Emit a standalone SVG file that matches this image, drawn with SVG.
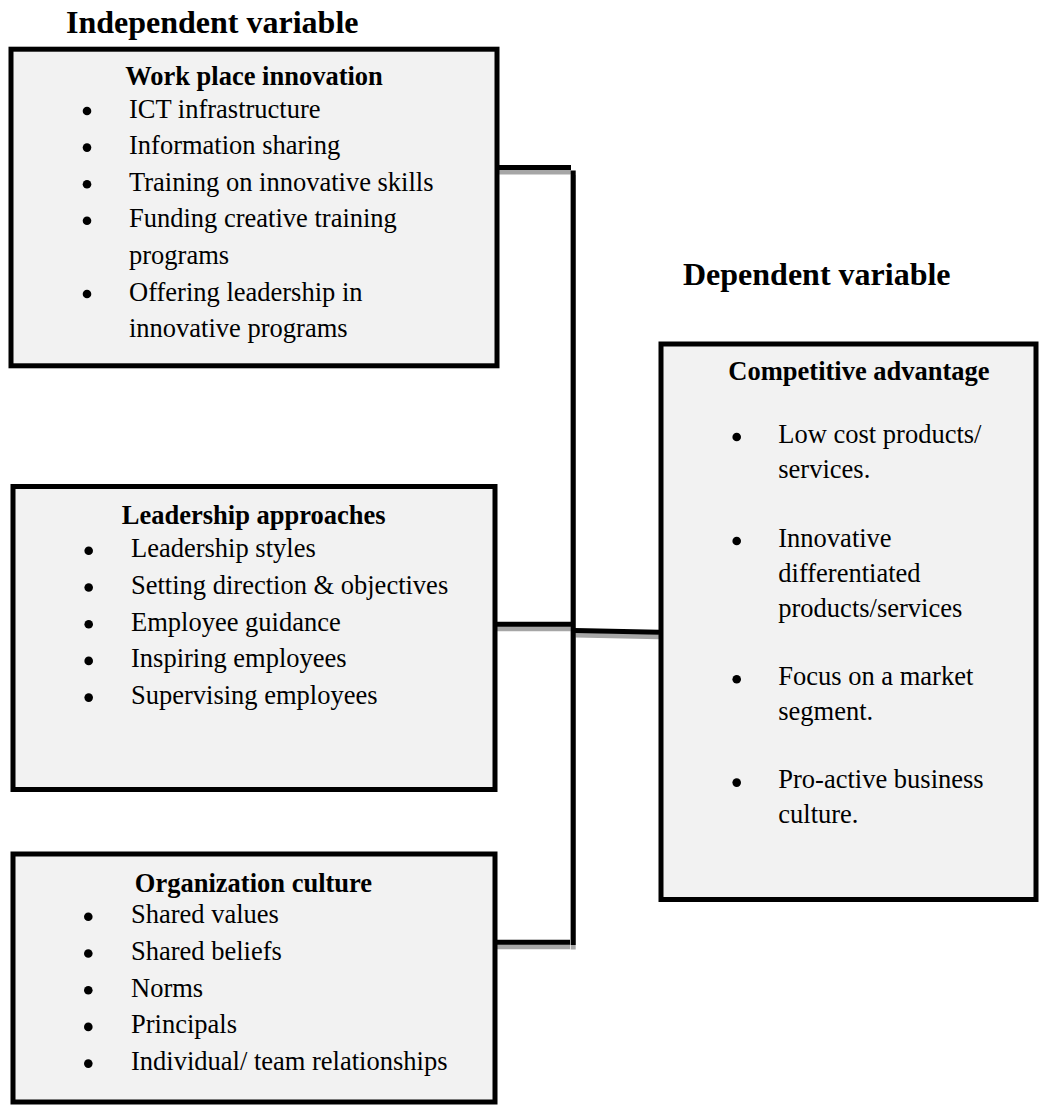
<svg xmlns="http://www.w3.org/2000/svg" width="1044" height="1105" viewBox="0 0 1044 1105">
<style>
.box{fill:#f2f2f2;stroke:#000;stroke-width:5}
.t{font-family:"Liberation Serif","Times New Roman",serif;font-size:26.5px;fill:#000}
.b{font-weight:bold}
.h{font-family:"Liberation Serif","Times New Roman",serif;font-size:32px;font-weight:bold;fill:#000}
.m{text-anchor:middle}
.dot{fill:#000}
.ln{stroke:#000;stroke-width:5;fill:none}
.sh{stroke:#a6a6a6;stroke-width:5;fill:none}
</style>
<rect width="1044" height="1105" fill="#fff"/>
<text class="h" x="66" y="33">Independent variable</text>
<text class="h" x="683" y="285">Dependent variable</text>

<g id="connectors">
  <g transform="translate(0,4.5)">
    <line class="sh" x1="497" y1="167.5" x2="571" y2="167.5"/>
    <line class="sh" x1="573.2" y1="170.5" x2="573.2" y2="945"/>
    <line class="sh" x1="497" y1="624.2" x2="571" y2="624.2"/>
    <line class="sh" x1="575" y1="630.5" x2="659" y2="632.2"/>
    <line class="sh" x1="497" y1="942.2" x2="570" y2="942.2"/>
  </g>
  <line class="ln" x1="497" y1="167.5" x2="571" y2="167.5"/>
  <line class="ln" x1="573.2" y1="170.5" x2="573.2" y2="945"/>
  <line class="ln" x1="497" y1="624.2" x2="571" y2="624.2"/>
  <line class="ln" x1="575" y1="630.5" x2="659" y2="632.2"/>
  <line class="ln" x1="497" y1="942.2" x2="570" y2="942.2"/>
</g>

<g id="workplace">
  <rect class="box" x="11" y="49.2" width="486" height="316.6"/>
  <text class="t b m" x="254" y="85">Work place innovation</text>
  <circle class="dot" cx="87" cy="111" r="4.3"/>
  <circle class="dot" cx="87" cy="147.6" r="4.3"/>
  <circle class="dot" cx="87" cy="184.2" r="4.3"/>
  <circle class="dot" cx="87" cy="220.8" r="4.3"/>
  <circle class="dot" cx="87" cy="294" r="4.3"/>
  <text class="t" x="129" y="117.5">ICT infrastructure</text>
  <text class="t" x="129" y="154.1">Information sharing</text>
  <text class="t" x="129" y="190.7">Training on innovative skills</text>
  <text class="t" x="129" y="227.3">Funding creative training</text>
  <text class="t" x="129" y="263.9">programs</text>
  <text class="t" x="129" y="300.5">Offering leadership in</text>
  <text class="t" x="129" y="337.1">innovative programs</text>
</g>

<g id="leadership">
  <rect class="box" x="13" y="486.5" width="482" height="303"/>
  <text class="t b m" x="253.7" y="524">Leadership approaches</text>
  <circle class="dot" cx="88.7" cy="550.8" r="4.3"/>
  <circle class="dot" cx="88.7" cy="587.5" r="4.3"/>
  <circle class="dot" cx="88.7" cy="624.2" r="4.3"/>
  <circle class="dot" cx="88.7" cy="660.9" r="4.3"/>
  <circle class="dot" cx="88.7" cy="697.6" r="4.3"/>
  <text class="t" x="131" y="557.3">Leadership styles</text>
  <text class="t" x="131" y="594">Setting direction &amp; objectives</text>
  <text class="t" x="131" y="630.7">Employee guidance</text>
  <text class="t" x="131" y="667.4">Inspiring employees</text>
  <text class="t" x="131" y="704.1">Supervising employees</text>
</g>

<g id="culture">
  <rect class="box" x="13" y="854" width="482" height="248"/>
  <text class="t b m" x="253.5" y="891.7">Organization culture</text>
  <circle class="dot" cx="88.3" cy="916.8" r="4.3"/>
  <circle class="dot" cx="88.3" cy="953.5" r="4.3"/>
  <circle class="dot" cx="88.3" cy="990.2" r="4.3"/>
  <circle class="dot" cx="88.3" cy="1026.9" r="4.3"/>
  <circle class="dot" cx="88.3" cy="1063.6" r="4.3"/>
  <text class="t" x="131" y="923.3">Shared values</text>
  <text class="t" x="131" y="960">Shared beliefs</text>
  <text class="t" x="131" y="996.7">Norms</text>
  <text class="t" x="131" y="1033.4">Principals</text>
  <text class="t" x="131" y="1070.1">Individual/ team relationships</text>
</g>

<g id="competitive">
  <rect class="box" x="661" y="344" width="375" height="555.5"/>
  <text class="t b m" x="859" y="380">Competitive advantage</text>
  <circle class="dot" cx="736.7" cy="437" r="4.3"/>
  <circle class="dot" cx="736.7" cy="541" r="4.3"/>
  <circle class="dot" cx="736.7" cy="679.3" r="4.3"/>
  <circle class="dot" cx="736.7" cy="782.6" r="4.3"/>
  <text class="t" x="778.3" y="442.7">Low cost products/</text>
  <text class="t" x="778.3" y="478.3">services.</text>
  <text class="t" x="778.3" y="546.7">Innovative</text>
  <text class="t" x="778.3" y="581.7">differentiated</text>
  <text class="t" x="778.3" y="616.7">products/services</text>
  <text class="t" x="778.3" y="685">Focus on a market</text>
  <text class="t" x="778.3" y="720">segment.</text>
  <text class="t" x="778.3" y="788.3">Pro-active business</text>
  <text class="t" x="778.3" y="823.3">culture.</text>
</g>
</svg>
